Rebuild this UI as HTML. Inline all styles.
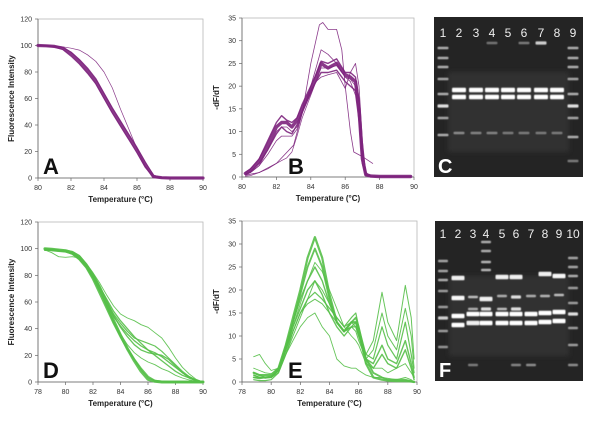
<!DOCTYPE html>
<html><head><meta charset="utf-8">
<style>
html,body{margin:0;padding:0;background:#fff;}
body{width:600px;height:420px;overflow:hidden;font-family:"Liberation Sans",Arial,sans-serif;}
svg text{font-family:"Liberation Sans",Arial,sans-serif;}
</style></head>
<body>
<svg id="fig" width="600" height="420" viewBox="0 0 600 420" xmlns="http://www.w3.org/2000/svg">
<defs>
<filter id="glow" x="-20%" y="-80%" width="140%" height="260%"><feGaussianBlur stdDeviation="0.5"/></filter>
<filter id="soft" x="-20%" y="-20%" width="140%" height="140%"><feGaussianBlur stdDeviation="2.5"/></filter>
</defs>
<g id="panels"></g>
<g id="gels"></g>
</svg>
<script>
// ---------- Panel A data ----------
var aTemps = [80,80.5,81,81.5,82,82.5,83,83.5,84,84.5,85,85.5,86,86.5,87,87.5,88,89,90];
var aMain = [100,99.8,99.3,98,94,88,81,73,62,51,41,31,21,10,1,0.2,0,0,0];
var aLow = [100,99.6,98.8,97,92,86,79,71,60,49,39,29,19,8,0.5,0,0,0,0];
var aHigh = [100,99.9,99.5,98.5,95,89.5,83,75,64,53,43,33,23,12,2,0.3,0,0,0];
var aOutlier = [100,99.9,99.6,99,98,96.5,93,88,80,68,52,37,22,9,1,0.3,0,0,0];
// ---------- Panel B data ----------
var bTemps = [80.2,80.5,81,81.5,82,82.3,82.6,82.9,83.2,83.5,84,84.3,84.6,85,85.5,86,86.3,86.6,86.8,87,87.2,87.5,88,89,89.8];
var bMain = [0.8,1.5,3.5,7,11,12,12,11,12.5,15,19,22,25,24,25,22.5,22,21,15,4,0.5,0.2,0.1,0.1,0.1];
var bVar1 = [0.6,1.2,3,6,9.5,11,10,9.5,11.5,14.5,19,21,23,23,23.5,21,20,19,14,3,0.4,0.1,0.1,0.1,0.1];
var bVar2 = [1,1.8,4,8,12,13.5,12.5,12,13,16,20,22.5,25.5,25,26,23,23,22,17,6,0.8,0.2,0.1,0.1,0.1];
var bMid = [0.5,1,2.5,6,10,11,11,10,11,14,20,24,28,27,25,22,21,18,12,3,0.3,0.1,0.1,0.1,0.1];
var bLate = [0.5,1,2.5,5,8,9,9,9,10.5,14,18.5,21,22,22.5,23,19.5,23,25,20,8,1,0.2,0.1,0.1,0.1];
var bSlow = [0.2,0.3,1,1.8,3,3.6,4.2,5.5,9,13,18,21,24,24,24.5,22,21.5,20,16,5,0.5,0.2,0.1,0.1,0.1];
var bBigTemps = [80.2,81,82,83,83.5,84,84.5,84.7,85,85.5,85.8,86,86.3,86.5,87,87.6];
var bBig = [0.4,1,3,7,14,25,33.5,34,32.5,32.5,28,20,10,5.5,4.5,3];
// ---------- Panel D data ----------
var dTemps = [78.5,79,79.5,80,80.5,81,81.5,82,82.5,83,83.5,84,84.5,85,85.5,86,86.5,87,87.5,88,88.5,89,89.5,90];
var dFast = [100,99.5,99,98.5,97,94,88,80,70,58,46,35,25,16,8,2,0.5,0,0,0,0,0,0,0];
var dFast2 = [99,99,98.5,98,96,92,86,77,66,55,44,34,25,17,10,4,1,0.3,0,0,0,0,0,0];
var dMid = [100,99.5,99,98,96.5,93,87,79,71,62,53,46,40,34,29,24,20,16,12,8,5,3,1,0];
var dMid2 = [99,98.5,98,97.5,96,92,86,78,68,58,49,42,36,31,27,24,22,19,15,11,7,4,1.5,0];
var dMid3 = [99,99,98.5,98,97,94,88,81,72,61,50,41,34,28,24,22,21,20,17,12,7,3,1,0];
var dMid4 = [100,99.5,99,98.5,97,93.5,88,80,70,60,51,44,38,33,31,29,27,23,18,13,8,4,1.5,0];
var dSlow = [100,99.5,99,99,98,95,89,82,74,65,57,51,48,46,43,41,37,33,26,18,11,6,2,0];
var dLowStart = [99,97,94,93.5,94,93,87,78,68,57,46,36,28,22,18,15,13,10,8,5,3,1.5,0.5,0];
// ---------- Panel E data ----------
var eTemps = [78.8,79.2,79.6,80,80.5,81,81.5,82,82.5,83,83.5,84,84.5,85,85.5,85.8,86,86.5,87,87.6,88,88.6,89.2,89.6,89.8];
var eHigh = [2,1.5,1.5,1.5,3,8,14,20,27,31.5,27,19,13,11,13,13,11,4,1,0.5,0.3,0.2,0.2,0.1,0];
var eHigh2 = [1,0.8,1,1.2,2.5,7,13,19,25,29,25,18,13,11,13,14,12,5,2,1,0.5,0.5,0.5,0.2,0];
var eMid = [0.5,0.3,0.3,0.5,2,6,11,15,18,19.5,18,16,14,12,14,15,12,6,5,12,8,5,13,6,2];
var eMid2 = [2,1.5,1,1,2.5,7,12,16,20,22,19,15,12,10,12,13,11,5,4,8,5,4,9,4,1];
var eMid3 = [1.5,1,1,1,3,8,13,18,22,25,22,17,13,11,12,12,10,5,3,6,4,3,7,3,0.5];
var eTail = [1,1,0.8,1,2,6,10,14,18,22,20,17,14,12,13,12,10,6,9,19.5,13,9,21,14,5];
var eTail2 = [1.5,1,1,1,2.5,7,11,15,17,18,17,15,13,11,12,11,9,5,7,15,10,7,16,10,3];
var eLow = [3,2.5,2,1.8,3,6,9,12,14,15,12,10,5,3.5,3,3,2.5,1.5,1,1,0.8,0.5,1,0.5,0];
var eOut = [5.5,6,4,2.5,3,7,12,17,22,26,24,20,16,12,10,9,8,4,3,3,2,3,4,2,1];

// tick labels
var aXTicks = [80,82,84,86,88,90];
var aYTicks = [0,20,40,60,80,100,120];
var bYTicks = [0,5,10,15,20,25,30,35];
var dXTicks = [78,80,82,84,86,88,90];

var NS = "http://www.w3.org/2000/svg";
function mk(tag, attrs, parent){
  var e = document.createElementNS(NS, tag);
  for (var k in attrs) e.setAttribute(k, attrs[k]);
  parent.appendChild(e);
  return e;
}

function panel(cfg){
  var root = document.getElementById('panels');
  var g = mk('g', {}, root);
  
  
  function sx(v){ return cfg.x0 + (v - cfg.xmin) / (cfg.xmax - cfg.xmin) * (cfg.x1 - cfg.x0); }
  function sy(v){ return cfg.y1 - (v - cfg.ymin) / (cfg.ymax - cfg.ymin) * (cfg.y1 - cfg.y0); }
  var frame = mk('rect', {x:cfg.x0, y:cfg.y0, width:cfg.x1-cfg.x0, height:cfg.y1-cfg.y0, fill:'none', stroke:'#b8b8b8', 'stroke-width':0.8}, g);
  
  
  var xa = mk('line', {x1:cfg.x0, y1:cfg.y1, x2:cfg.x1, y2:cfg.y1, stroke:'#666', 'stroke-width':0.8}, g);
  
  
  var ya = mk('line', {x1:cfg.x0, y1:cfg.y0, x2:cfg.x0, y2:cfg.y1, stroke:'#666', 'stroke-width':0.8}, g);
  
  
  cfg.xticks.forEach(function(t){
    var X = sx(t);
    mk('line', {x1:X, y1:cfg.y1, x2:X, y2:cfg.y1+3, stroke:'#666', 'stroke-width':0.7}, g);
    var tx = mk('text', {x:X, y:cfg.y1+12, 'font-size':7, fill:'#333', 'text-anchor':'middle'}, g);
    tx.textContent = t;
    
    
  });
  cfg.yticks.forEach(function(t){
    var Y = sy(t);
    mk('line', {x1:cfg.x0-3, y1:Y, x2:cfg.x0, y2:Y, stroke:'#666', 'stroke-width':0.7}, g);
    var tx = mk('text', {x:cfg.x0-6, y:Y+2.5, 'font-size':7, fill:'#333', 'text-anchor':'end'}, g);
    tx.textContent = t;
    
    
  });
  var xt = mk('text', {x:(cfg.x0+cfg.x1)/2, y:cfg.y1+24, 'font-size':8, 'font-weight':'bold', fill:'#222', 'text-anchor':'middle'}, g);
  xt.textContent = 'Temperature (\u00B0C)';
  
  
  var yt = mk('text', {x:0, y:0, 'font-size':8, 'font-weight':'bold', fill:'#222', 'text-anchor':'middle', transform:'translate('+cfg.ytx+','+((cfg.y0+cfg.y1)/2)+') rotate(-90)'}, g);
  yt.textContent = cfg.ytitle;
  
  
  cfg.series.forEach(function(s){
    var d = '';
    for (var i = 0; i < s.ys.length; i++){
      d += (i ? 'L' : 'M') + sx(s.xs[i]).toFixed(1) + ',' + sy(s.ys[i]).toFixed(1);
    }
    var p = mk('path', {d:d, fill:'none', stroke:cfg.color, 'stroke-width':s.w, 'stroke-linejoin':'round', 'stroke-linecap':'round', opacity:0.9}, g);
    
    
  });
  var lt = mk('text', {x:cfg.lx, y:cfg.ly, 'font-size':22, 'font-weight':'bold', fill:'#111'}, g);
  lt.textContent = cfg.letter;
  
  
}

var P = '#7d237d', G = '#55bf48';
panel({name:'panel-a-chart', x0:38, x1:203, y0:19, y1:178, xmin:80, xmax:90, ymin:0, ymax:120,
  xticks:aXTicks, yticks:aYTicks, ytitle:'Fluorescence Intensity', ytx:14, color:P, letter:'A', lx:43, ly:174,
  series:[{xs:aTemps, ys:aLow, w:1.2},{xs:aTemps, ys:aHigh, w:1.2},{xs:aTemps, ys:aMain, w:3.2},{xs:aTemps, ys:aOutlier, w:0.7}]});
panel({name:'panel-b-chart', x0:242, x1:414, y0:18, y1:177, xmin:80, xmax:90, ymin:0, ymax:35,
  xticks:aXTicks, yticks:bYTicks, ytitle:'-dF/dT', ytx:219, color:P, letter:'B', lx:288, ly:174,
  series:[{xs:bTemps, ys:bVar1, w:1.4},{xs:bTemps, ys:bVar2, w:1.4},{xs:bTemps, ys:bMid, w:0.8},{xs:bTemps, ys:bLate, w:0.8},{xs:bTemps, ys:bSlow, w:0.7},{xs:bTemps, ys:bMain, w:3.4},{xs:bBigTemps, ys:bBig, w:0.8}]});
panel({name:'panel-d-chart', x0:38, x1:203, y0:222, y1:382, xmin:78, xmax:90, ymin:0, ymax:120,
  xticks:dXTicks, yticks:aYTicks, ytitle:'Fluorescence Intensity', ytx:14, color:G, letter:'D', lx:43, ly:378,
  series:[{xs:dTemps, ys:dFast, w:3},{xs:dTemps, ys:dFast2, w:2},{xs:dTemps, ys:dMid, w:1.3},{xs:dTemps, ys:dMid2, w:1.3},{xs:dTemps, ys:dMid3, w:1.3},{xs:dTemps, ys:dMid4, w:1.2},{xs:dTemps, ys:dSlow, w:0.9},{xs:dTemps, ys:dLowStart, w:0.9}]});
panel({name:'panel-e-chart', x0:242, x1:417, y0:221, y1:382, xmin:78, xmax:90, ymin:0, ymax:35,
  xticks:dXTicks, yticks:bYTicks, ytitle:'-dF/dT', ytx:219, color:G, letter:'E', lx:288, ly:378,
  series:[{xs:eTemps, ys:eHigh, w:2.2},{xs:eTemps, ys:eHigh2, w:1.8},{xs:eTemps, ys:eMid, w:1.2},{xs:eTemps, ys:eMid2, w:1.4},{xs:eTemps, ys:eMid3, w:1.4},{xs:eTemps, ys:eTail, w:1},{xs:eTemps, ys:eTail2, w:1},{xs:eTemps, ys:eLow, w:0.9},{xs:eTemps, ys:eOut, w:0.9}]});

// ---------- Gels ----------
var cLanes = [443,459,476,492,508,524,541,557,573];
var cBands = [
  [[48,0.5],[58,0.5],[67,0.5],[79,0.45],[94,0.5],[106,0.8],[118,0.45],[135,0.5]],
  [[90,1],[97,1],[133,0.3]],[[90,1],[97,1],[133,0.25]],[[90,1],[97,1],[133,0.25],[43,0.15]],
  [[90,1],[97,1],[133,0.2]],[[90,1],[97,1],[133,0.2],[43,0.2]],[[90,1],[97,1],[133,0.2],[43,0.7]],
  [[90,1],[97,1],[133,0.2]],
  [[48,0.5],[58,0.5],[67,0.5],[79,0.45],[94,0.5],[106,0.8],[118,0.45],[137,0.5],[161,0.2]]
];
var fLanes = [443,458,473,486,502,516,531,545,559,573];
var fBands = [
  [[261,0.45],[271,0.45],[280,0.5],[291,0.4],[307,0.4],[318,0.7],[331,0.4],[347,0.35]],
  [[278,0.9],[298,0.95],[316,1],[325,1]],
  [[297,0.6],[309,0.5],[314,1],[323,0.9],[365,0.2]],
  [[242,0.5],[251,0.5],[262,0.55],[270,0.55],[299,0.9],[309,0.8],[314,1],[323,1]],
  [[277,0.9],[296,0.5],[309,0.6],[314,1],[323,1]],
  [[277,0.9],[297,0.8],[309,0.8],[314,1],[323,1],[365,0.25]],
  [[296,0.5],[314,1],[323,1],[365,0.3]],
  [[274,0.9],[296,0.55],[313,1],[322,1]],
  [[276,0.95],[295,0.6],[312,1],[321,1]],
  [[258,0.45],[267,0.45],[276,0.5],[288,0.4],[303,0.4],[314,0.8],[328,0.4],[345,0.4],[365,0.3]]
];
function gel(name, x, y, w, h, lanes, bands, labY, letter, bw){
  var root = document.getElementById('gels');
  var g = mk('g', {}, root);
  
  
  var bg = mk('rect', {x:x, y:y, width:w, height:h, fill:'#242424'}, g);
  
  
  mk('rect', {x:x+14, y:y+55, width:w-28, height:h-80, fill:'#3a3a3a', filter:'url(#soft)', opacity:0.6}, g);
  lanes.forEach(function(cx, i){
    bands[i].forEach(function(b){
      var v = Math.round(90 + b[1]*165);
      var bh = b[1] > 0.85 ? 4.5 : (b[1] > 0.6 ? 3.2 : 2.4);
      var ww = b[1] > 0.85 ? bw + 2 : bw - 1;
      var r = mk('rect', {x:cx-ww/2, y:b[0]-bh/2, width:ww, height:bh, rx:1, fill:'rgb('+v+','+v+','+v+')', filter:'url(#glow)'}, g);
      
      
    });
    var t = mk('text', {x:cx, y:labY, 'font-size':12, fill:'#eee', 'text-anchor':'middle'}, g);
    t.textContent = i + 1;
    
    
  });
  var L = mk('text', {x:x+4, y:y+h-4, 'font-size':20, 'font-weight':'bold', fill:'#fff'}, g);
  L.textContent = letter;
  
  
}
gel('gel-c', 434, 17, 149, 160, cLanes, cBands, 37, 'C', 12);
gel('gel-f', 435, 221, 148, 160, fLanes, fBands, 238, 'F', 11);
</script>
</body></html>
